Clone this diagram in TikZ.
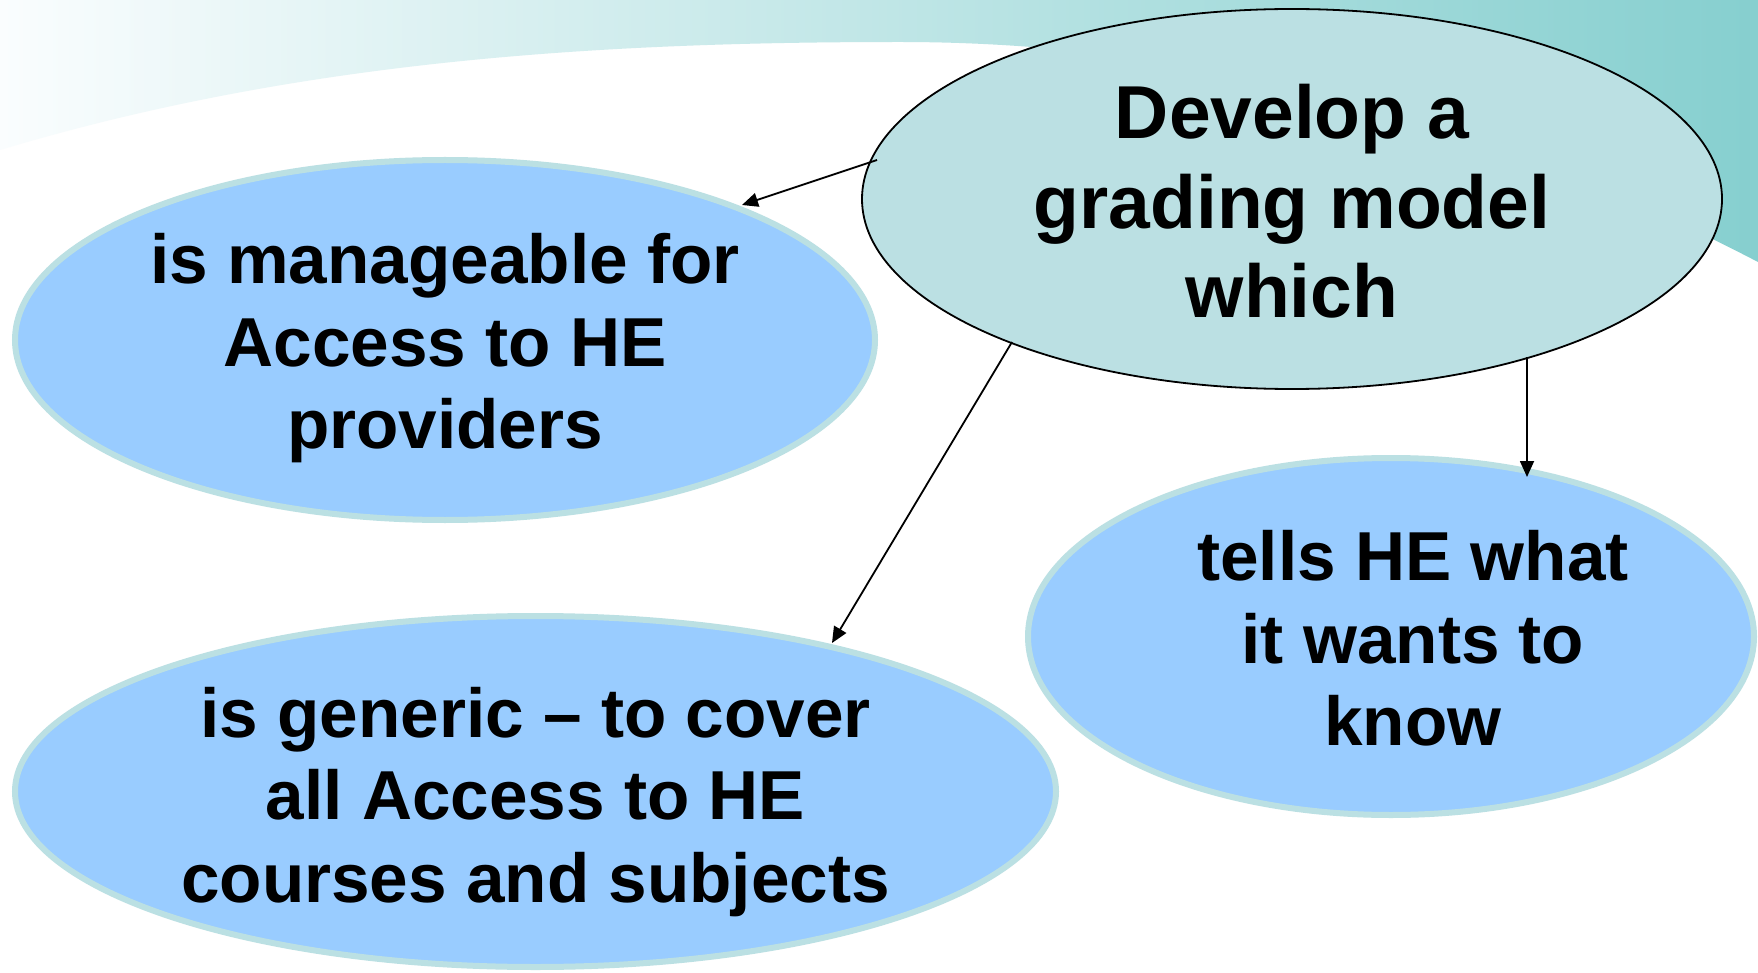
\documentclass[tikz,border=0pt]{standalone}
\usepackage{fontspec}
\setmainfont{Liberation Sans}
\usetikzlibrary{shapes.geometric,arrows.meta}
\definecolor{topfill}{RGB}{187,224,227}
\definecolor{bluefill}{RGB}{153,204,255}
\definecolor{blueedge}{RGB}{187,224,227}
\definecolor{bandR}{RGB}{134,207,207}
\definecolor{bandL}{RGB}{250,253,254}
\begin{document}
\begin{tikzpicture}[x=1pt,y=-1pt,
  bubble/.style={ellipse, draw=blueedge, line width=6pt, fill=bluefill, inner sep=0pt},
  mainbubble/.style={ellipse, draw=black, line width=1.8pt, fill=topfill, inner sep=0pt},
  bodytext/.style={inner sep=0pt, align=center, font=\fontsize{69.3}{82.5}\selectfont\bfseries},
  headtext/.style={inner sep=0pt, align=center, font=\fontsize{75}{89.5}\selectfont\bfseries},
  conn/.style={line width=1.8pt, -{Triangle[length=16pt,width=14pt]}}
]
\useasboundingbox (0,0) rectangle (1758,973);
\fill[white] (0,0) rectangle (1758,973);
\shade[left color=bandL, right color=bandR] (0,0) -- (1758,0) -- (1758,262)
  .. controls (1600,180) and (1300,42) .. (900,42)
  .. controls (600,42) and (300,60) .. (0,150) -- cycle;

\node[mainbubble, minimum width=860pt, minimum height=380pt] (top) at (1292,199) {};
\node[bubble, minimum width=860pt, minimum height=360pt] (tl) at (445,340) {};
\node[bubble, minimum width=1041pt, minimum height=351pt] (bl) at (535.5,791.5) {};
\node[bubble, minimum width=726pt, minimum height=357pt] (rt) at (1391,636.5) {};

\node[headtext] (toptext) at (1292,210.6) {\strut Develop a\\\strut grading model\\\strut which};
\node[bodytext] (tltext) at (445,349.5) {\strut is manageable for\\\strut Access to HE\\\strut providers};
\node[bodytext] (bltext) at (535.6,803.4) {\strut is generic -- to cover\\\strut all Access to HE\\\strut courses and subjects};
\node[bodytext] (rttext) at (1413,646.5) {\strut tells HE what\\\strut it wants to\\\strut know};

\draw[conn] ([shift={(-415,-39)}]top.center) -- ([shift={(297,-135)}]tl.center);
\draw[conn] ([shift={(-280,143)}]top.center) -- ([shift={(296.5,-148.5)}]bl.center);
\draw[conn] ([shift={(235,158)}]top.center) -- ([shift={(136,-159.5)}]rt.center);
\end{tikzpicture}
\end{document}
